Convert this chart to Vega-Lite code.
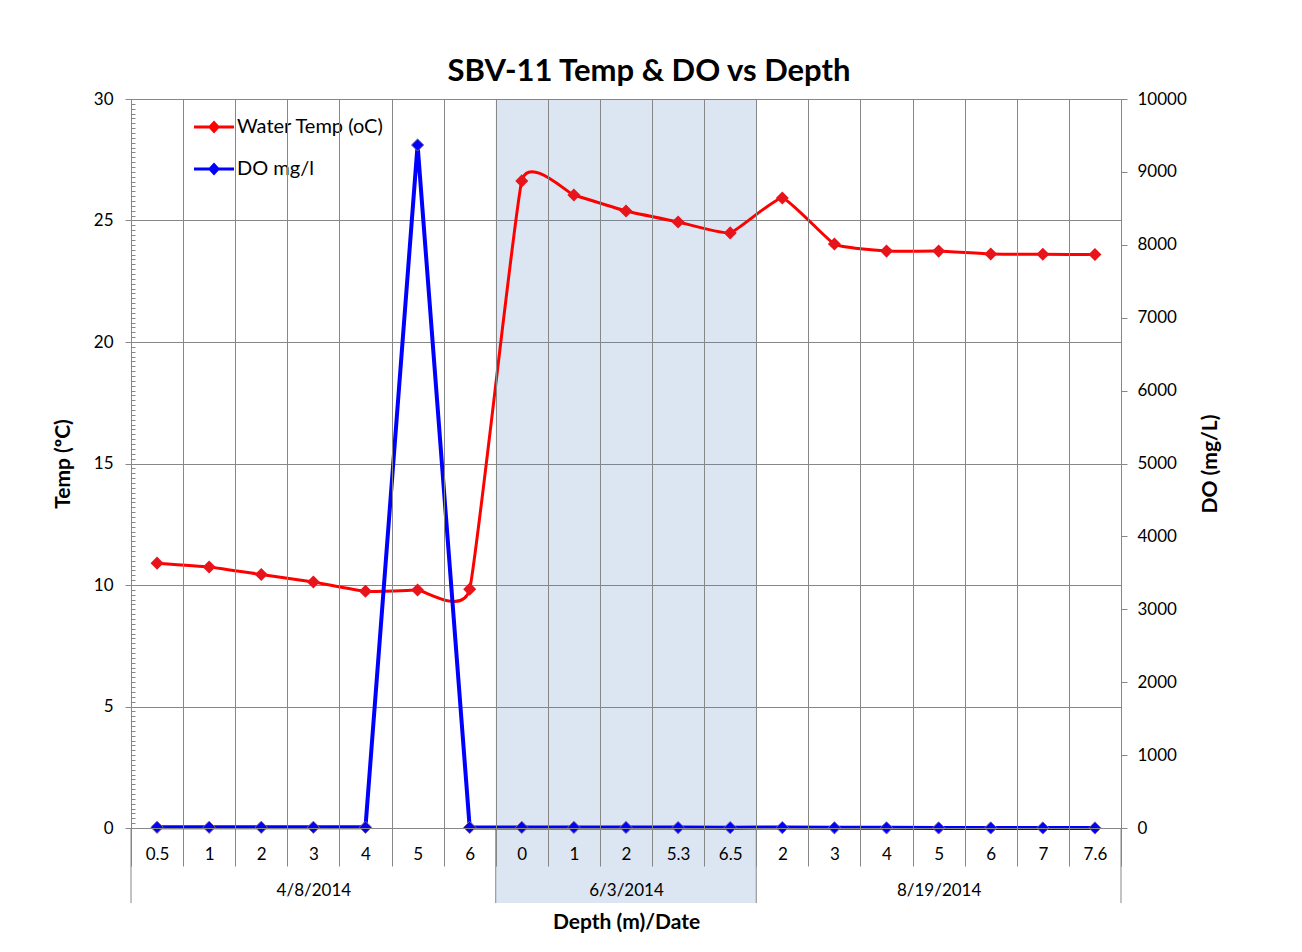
{
  "$schema": "https://vega.github.io/schema/vega-lite/v6.json",
  "width": 990,
  "height": 729,
  "autosize": "none",
  "padding": {"left": 131, "top": 99, "right": 181, "bottom": 124},
  "background": "white",
  "config": {
    "font": "Lato",
    "view": {"stroke": null},
    "axis": {"labelColor": "#000000", "titleColor": "#000000", "labelFont": "Lato", "titleFont": "Lato"}
  },
  "title": {
    "text": "SBV-11 Temp & DO vs Depth",
    "fontSize": 31,
    "fontWeight": "bold",
    "font": "Lato",
    "color": "#000000",
    "anchor": "middle",
    "frame": "group",
    "baseline": "alphabetic",
    "dx": 23,
    "dy": 40,
    "offset": 18
  },
  "data": {
    "values": [
      {"cat": "4/8/2014|0.5", "temp": 10.9, "do": 10},
      {"cat": "4/8/2014|1", "temp": 10.74, "do": 10},
      {"cat": "4/8/2014|2", "temp": 10.43, "do": 10},
      {"cat": "4/8/2014|3", "temp": 10.12, "do": 10},
      {"cat": "4/8/2014|4", "temp": 9.74, "do": 10},
      {"cat": "4/8/2014|5", "temp": 9.79, "do": 9369},
      {"cat": "4/8/2014|6", "temp": 9.83, "do": 8},
      {"cat": "6/3/2014|0", "temp": 26.63, "do": 8},
      {"cat": "6/3/2014|1", "temp": 26.05, "do": 8},
      {"cat": "6/3/2014|2", "temp": 25.39, "do": 7},
      {"cat": "6/3/2014|5.3", "temp": 24.94, "do": 6},
      {"cat": "6/3/2014|6.5", "temp": 24.49, "do": 5},
      {"cat": "8/19/2014|2", "temp": 25.93, "do": 6},
      {"cat": "8/19/2014|3", "temp": 24.03, "do": 3},
      {"cat": "8/19/2014|4", "temp": 23.74, "do": 2},
      {"cat": "8/19/2014|5", "temp": 23.74, "do": 1},
      {"cat": "8/19/2014|6", "temp": 23.62, "do": 1},
      {"cat": "8/19/2014|7", "temp": 23.61, "do": 0.5},
      {"cat": "8/19/2014|7.6", "temp": 23.6, "do": 0.3}
    ]
  },
  "encoding": {
    "x": {
      "field": "cat",
      "type": "nominal",
      "sort": null,
      "scale": {
        "paddingInner": 0,
        "paddingOuter": 0,
        "domain": ["4/8/2014|0.5", "4/8/2014|1", "4/8/2014|2", "4/8/2014|3", "4/8/2014|4", "4/8/2014|5", "4/8/2014|6", "6/3/2014|0", "6/3/2014|1", "6/3/2014|2", "6/3/2014|5.3", "6/3/2014|6.5", "8/19/2014|2", "8/19/2014|3", "8/19/2014|4", "8/19/2014|5", "8/19/2014|6", "8/19/2014|7", "8/19/2014|7.6"]
      },
      "axis": {
        "title": "Depth (m)/Date",
        "titleFontSize": 21,
        "titleFontWeight": "bold",
        "titlePadding": 13,
        "tickBand": "extent",
        "grid": true,
        "gridColor": "#878787",
        "gridWidth": 1,
        "tickColor": "#878787",
        "tickSize": 38,
        "domainColor": "#878787",
        "labelAngle": 0,
        "labelFontSize": 17,
        "labelPadding": -20,
        "labelLineHeight": 36,
        "labelExpr": "[split(datum.value,'|')[1], (datum.value == '4/8/2014|3' || datum.value == '6/3/2014|2' || datum.value == '8/19/2014|5') ? split(datum.value,'|')[0] : '']"
      }
    }
  },
  "layer": [
    {
      "layer": [
        {
          "layer": [
            {
              "data": {"values": [{"cat": "6/3/2014|0"}, {"cat": "6/3/2014|1"}, {"cat": "6/3/2014|2"}, {"cat": "6/3/2014|5.3"}, {"cat": "6/3/2014|6.5"}]},
              "mark": {"type": "rect", "fill": "#4f81bd", "opacity": 0.2},
              "encoding": {
                "y": {"datum": 30, "type": "quantitative", "scale": {"domain": [0, 30], "nice": false, "zero": false}},
                "y2": {"datum": -3.09}
              }
            },
            {
              "data": {"values": [{"cat": "4/8/2014|0.5"}, {"cat": "6/3/2014|0"}, {"cat": "8/19/2014|2"}]},
              "mark": {"type": "rule", "color": "#878787", "strokeWidth": 1},
              "encoding": {
                "x": {"field": "cat", "type": "nominal", "bandPosition": 0},
                "y": {"datum": 0, "type": "quantitative", "scale": {"domain": [0, 30], "nice": false, "zero": false}},
                "y2": {"datum": -3.09}
              }
            },
            {
              "data": {"values": [{"cat": "8/19/2014|7.6"}]},
              "mark": {"type": "rule", "color": "#878787", "strokeWidth": 1},
              "encoding": {
                "x": {"field": "cat", "type": "nominal", "bandPosition": 1},
                "y": {"datum": 0, "type": "quantitative", "scale": {"domain": [0, 30], "nice": false, "zero": false}},
                "y2": {"datum": -3.09}
              }
            },
            {
              "mark": {"type": "line", "interpolate": "cardinal", "tension": 0.6, "strokeWidth": 3},
              "encoding": {
                "y": {
                  "field": "temp",
                  "type": "quantitative",
                  "scale": {"domain": [0, 30], "nice": false, "zero": false},
                  "axis": {
                    "title": "Temp (ºC)",
                    "titleFontSize": 21,
                    "titleFontWeight": "bold",
                    "titlePadding": 20,
                    "tickCount": 6,
                    "format": "d",
                    "labelFontSize": 17,
                    "labelPadding": 12,
                    "grid": true,
                    "gridColor": "#878787",
                    "tickColor": "#878787",
                    "tickSize": 6,
                    "domainColor": "#878787"
                  }
                },
                "color": {
                  "datum": "Water Temp (oC)",
                  "type": "nominal",
                  "scale": {"domain": ["Water Temp (oC)", "DO mg/l"], "range": ["#ff0000", "#0000ff"]},
                  "legend": {
                    "title": null,
                    "orient": "none",
                    "legendX": 51,
                    "legendY": 8,
                    "padding": 0,
                    "fillColor": "white",
                    "symbolOffset": 12,
                    "symbolSize": 1600,
                    "symbolType": "M-1,-0.07L1,-0.07L1,0.07L-1,0.07Z M0,-0.32L0.3,0L0,0.32L-0.3,0Z",
                    "symbolStrokeWidth": 0,
                    "labelFontSize": 20,
                    "labelFont": "Lato",
                    "labelColor": "#000000",
                    "labelOffset": 3,
                    "rowPadding": 12,
                    "encode": {"symbols": {"update": {"fill": {"scale": "color", "field": "value"}, "strokeWidth": {"value": 0}, "opacity": {"value": 1}}}}
                  }
                }
              }
            },
            {
              "mark": {"type": "point", "shape": "diamond", "filled": true, "size": 170, "color": "#e8141c", "opacity": 1},
              "encoding": {
                "y": {"field": "temp", "type": "quantitative", "scale": {"domain": [0, 30], "nice": false, "zero": false}}
              }
            }
          ]
        },
        {
          "mark": {"type": "point", "opacity": 0},
          "encoding": {
            "y": {
              "field": "temp",
              "type": "quantitative",
              "scale": {"domain": [0, 30], "nice": false, "zero": false},
              "axis": {
                "orient": "left",
                "title": null,
                "labels": false,
                "domain": false,
                "grid": false,
                "ticks": true,
                "tickCount": 150,
                "tickSize": -4,
                "tickWidth": 1,
                "tickColor": "#878787"
              }
            }
          }
        }
      ],
      "resolve": {"scale": {"y": "independent"}}
    },
    {
      "layer": [
        {
          "mark": {"type": "line", "strokeWidth": 4},
          "encoding": {
            "y": {
              "field": "do",
              "type": "quantitative",
              "scale": {"domain": [0, 10000], "nice": false, "zero": false},
              "axis": {
                "orient": "right",
                "title": "DO (mg/L)",
                "titleAngle": 270,
                "titleFontSize": 21,
                "titleFontWeight": "bold",
                "titlePadding": 34,
                "tickCount": 10,
                "format": "d",
                "grid": false,
                "labelFontSize": 17,
                "labelPadding": 10,
                "tickColor": "#878787",
                "tickSize": 6,
                "domainColor": "#878787"
              }
            },
            "color": {"datum": "DO mg/l", "type": "nominal"}
          }
        },
        {
          "mark": {"type": "point", "shape": "diamond", "filled": true, "size": 150, "fill": "#0000ff", "stroke": "#7a62a8", "strokeWidth": 1, "opacity": 1},
          "encoding": {
            "y": {"field": "do", "type": "quantitative", "scale": {"domain": [0, 10000], "nice": false, "zero": false}}
          }
        }
      ]
    }
  ],
  "resolve": {"scale": {"y": "independent"}}
}
